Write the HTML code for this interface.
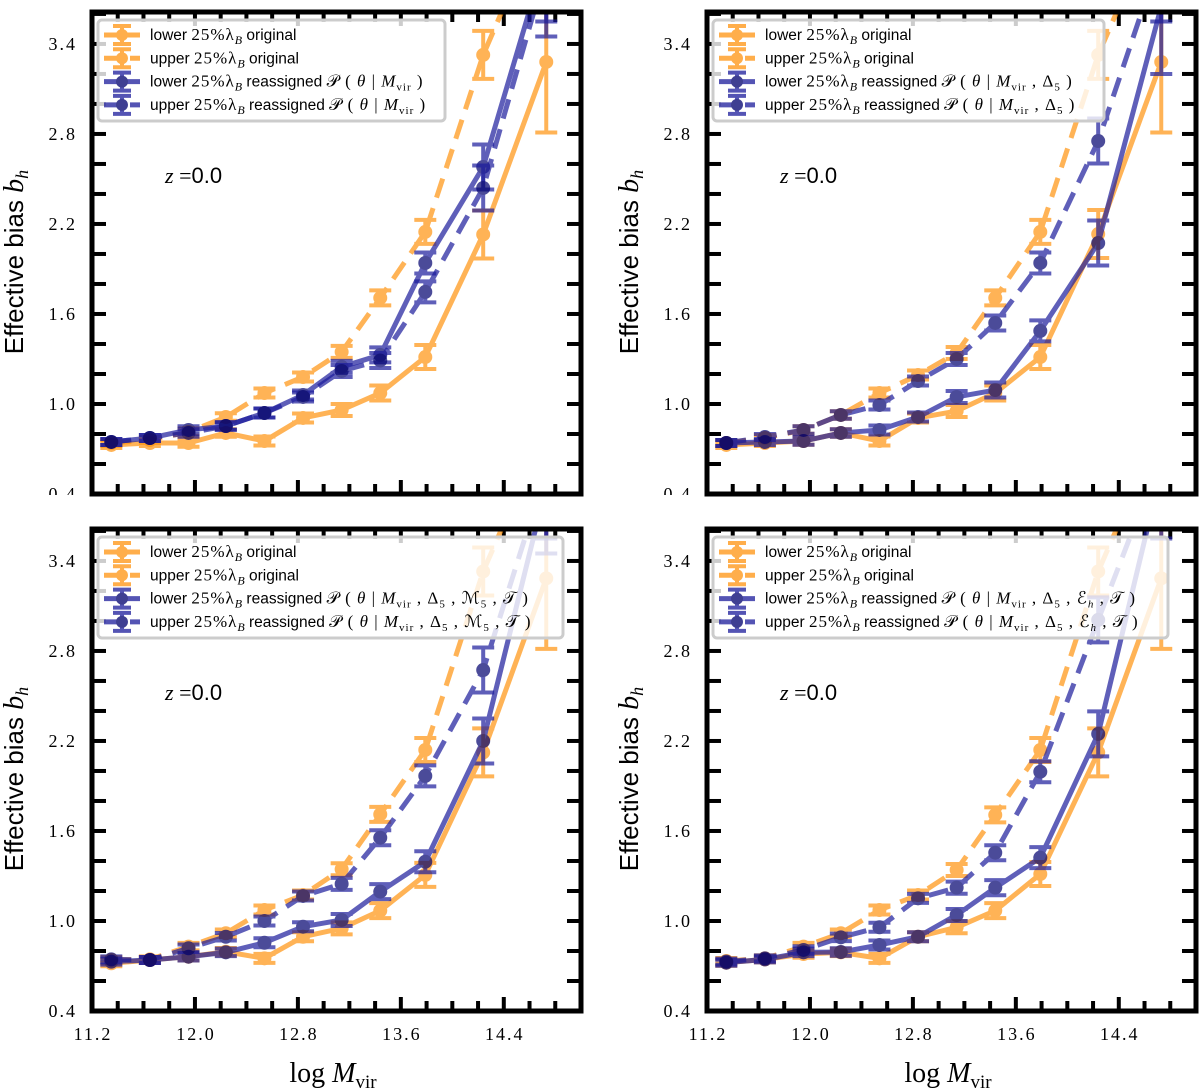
<!DOCTYPE html>
<html><head><meta charset="utf-8">
<style>
html,body{margin:0;padding:0;background:#fff;}
svg{display:block;}
</style></head>
<body>
<svg id="fig" width="1200" height="1088" viewBox="0 0 1200 1088" xmlns="http://www.w3.org/2000/svg"></svg>
<script>
// ---- data (x = log Mvir bin centres, y = effective bias) ----
const massBins = [11.35, 11.65, 11.95, 12.24, 12.54, 12.84, 13.14, 13.44, 13.79, 14.24, 14.73];
const yTicks = [0.4, 1.0, 1.6, 2.2, 2.8, 3.4];
const xTicks = [11.2, 12.0, 12.8, 13.6, 14.4];

// panel A: P(theta|Mvir)
const aLowOrig = [0.727,0.740,0.740,0.807,0.753,0.907,0.960,1.073,1.313,2.130,3.280];
const aUpOrig  = [0.740,0.760,0.813,0.913,1.073,1.180,1.347,1.707,2.147,3.327,4.300];
const aLowRe   = [0.747,0.773,0.827,0.853,0.940,1.060,1.247,1.327,1.940,2.580,4.000];
const aUpRe    = [0.747,0.773,0.807,0.853,0.940,1.047,1.220,1.290,1.747,2.440,3.900];
// panel B: P(theta|Mvir,Delta5)
const bLowOrig = [0.727,0.740,0.753,0.807,0.753,0.907,0.953,1.073,1.313,2.133,3.280];
const bUpOrig  = [0.740,0.773,0.827,0.927,1.073,1.193,1.340,1.707,2.147,3.327,4.300];
const bLowRe   = [0.740,0.747,0.753,0.807,0.827,0.913,1.047,1.093,1.487,2.073,3.650];
const bUpRe    = [0.740,0.780,0.827,0.927,0.993,1.153,1.300,1.540,1.940,2.753,4.000];
// panel C: P(theta|Mvir,Delta5,M5,T)
const cLowOrig = [0.718,0.740,0.762,0.795,0.751,0.895,0.951,1.069,1.307,2.124,3.284];
const cUpOrig  = [0.740,0.744,0.829,0.918,1.073,1.173,1.345,1.711,2.140,3.330,4.300];
const cLowRe   = [0.729,0.740,0.762,0.791,0.855,0.962,1.007,1.196,1.395,2.200,3.900];
const cUpRe    = [0.744,0.740,0.818,0.895,1.000,1.167,1.247,1.555,1.967,2.673,4.000];
// panel D: P(theta|Mvir,Delta5,Eh,T)
const dLowOrig = [0.722,0.744,0.780,0.791,0.751,0.895,0.958,1.069,1.313,2.124,3.284];
const dUpOrig  = [0.733,0.751,0.829,0.918,1.073,1.173,1.340,1.707,2.140,3.330,4.300];
const dLowRe   = [0.722,0.744,0.791,0.793,0.840,0.895,1.040,1.222,1.422,2.247,4.000];
const dUpRe    = [0.729,0.751,0.807,0.891,0.958,1.151,1.222,1.455,1.995,3.007,4.100];

const errOrig = [0.02,0.02,0.025,0.025,0.03,0.03,0.04,0.05,0.08,0.16,0.47];
const errRe   = [0.02,0.02,0.025,0.025,0.03,0.03,0.04,0.05,0.07,0.15,0.45];

const panelSeries = [
  [aLowOrig,aUpOrig,aLowRe,aUpRe],
  [bLowOrig,bUpOrig,bLowRe,bUpRe],
  [cLowOrig,cUpOrig,cLowRe,cUpRe],
  [dLowOrig,dUpOrig,dLowRe,dUpRe]
];
const condLabels = ["<tspan font-style='italic'>M</tspan><tspan font-size='11' dy='4'>vir</tspan><tspan dy='-4'> )</tspan>",
  "<tspan font-style='italic'>M</tspan><tspan font-size='11' dy='4'>vir</tspan><tspan dy='-4'> , Δ</tspan><tspan font-size='11' dy='4'>5</tspan><tspan dy='-4'> )</tspan>",
  "<tspan font-style='italic'>M</tspan><tspan font-size='11' dy='4'>vir</tspan><tspan dy='-4'> , Δ</tspan><tspan font-size='11' dy='4'>5</tspan><tspan dy='-4'> , ℳ</tspan><tspan font-size='11' dy='4'>5</tspan><tspan dy='-4'> , 𝒯 )</tspan>",
  "<tspan font-style='italic'>M</tspan><tspan font-size='11' dy='4'>vir</tspan><tspan dy='-4'> , Δ</tspan><tspan font-size='11' dy='4'>5</tspan><tspan dy='-4'> , ℰ</tspan><tspan font-size='11' font-style='italic' dy='4'>h</tspan><tspan dy='-4'> , 𝒯 )</tspan>"];
const legendWidths = [347, 391, 465, 455];

// ---- layout ----
const NS = "http://www.w3.org/2000/svg";
const svg = document.getElementById('fig');
const panels = [{L:92,T:12},{L:707,T:12},{L:92,T:529},{L:707,T:529}];
const W = 489, H = 482, XMIN = 11.2, XMAX = 15.0, YMIN = 0.4, YMAX = 3.613;
const ORANGE = '#ff9410', BLUE = '#1c1c9c', NAVY = '#00006e';

function mk(tag, attrs, parent){ const e=document.createElementNS(NS,tag); for(const k in attrs) e.setAttribute(k,attrs[k]); (parent||svg).appendChild(e); return e; }

const cpl = mk('clipPath', {id:'ylclip'});
mk('rect', {x:0, y:0, width:1200, height:495}, cpl);

panels.forEach((p, pi) => {
  const sx = v => p.L + (v - XMIN) / (XMAX - XMIN) * W;
  const sy = v => p.T + H - (v - YMIN) / (YMAX - YMIN) * H;
  const g = mk('g', {});
  
  
  const cid = 'clip' + pi;
  const cp = mk('clipPath', {id: cid}, g);
  mk('rect', {x:p.L, y:p.T, width:W, height:H}, cp);

  // ticks
  const tg = mk('g', {stroke:'#000','stroke-width':4}, g);
  
  
  for (let v = 0.4; v < YMAX; v += 0.2) {
    const y = sy(v);
    mk('line', {x1:p.L, x2:p.L+14, y1:y, y2:y}, tg);
    mk('line', {x1:p.L+W-14, x2:p.L+W, y1:y, y2:y}, tg);
  }
  for (let i = 0; i <= 19; i++) {
    const v = XMIN + i*0.2, x = sx(v);
    const len = (i % 4 === 0) ? 14 : 10;
    mk('line', {x1:x, x2:x, y1:p.T+H, y2:p.T+H-len}, tg);
    mk('line', {x1:x, x2:x, y1:p.T, y2:p.T+len}, tg);
  }

  // y tick labels
  const yl = mk('g', {'font-family':'"Liberation Serif", serif','font-size':18,'letter-spacing':2,'text-anchor':'end'}, g);
  if (pi < 2) yl.setAttribute('clip-path', 'url(#ylclip)');
  yTicks.forEach(v => {
    const t = mk('text', {x:p.L-15, y:sy(v)+6}, yl);
    
    
    t.textContent = v.toFixed(1);
  });
  if (pi >= 2) {
    xTicks.forEach(v => {
      const t = mk('text', {x:sx(v)+1, y:p.T+H+29,'font-family':'"Liberation Serif", serif','font-size':18,'letter-spacing':2,'text-anchor':'middle'}, g);
      
      
      t.textContent = v.toFixed(1);
    });
    const xt = mk('text', {x:p.L+241, y:1082,'font-family':'"Liberation Serif", serif','font-size':28,'text-anchor':'middle'}, g);
    
    
    xt.innerHTML = "log <tspan font-style='italic'>M</tspan><tspan font-size='19' dy='6'>vir</tspan>";
  }
  const yt = mk('text', {transform:`translate(${p.L-69},${p.T+250}) rotate(-90)`,'font-family':'"Liberation Sans", sans-serif','font-size':26,'text-anchor':'middle'}, g);
  
  
  yt.innerHTML = "Effective bias <tspan font-family='Liberation Serif, serif' font-style='italic' font-size='28'>b</tspan><tspan font-family='Liberation Serif, serif' font-style='italic' font-size='18' dy='5'>h</tspan>";

  // series
  const sg = mk('g', {'clip-path':`url(#${cid})`}, g);
  const defs = [
    {data:panelSeries[pi][0], err:errOrig, col:ORANGE, dash:null, mk:ORANGE, op:0.7, name:'lower-original'},
    {data:panelSeries[pi][1], err:errOrig, col:ORANGE, dash:'20 11', mk:ORANGE, op:0.7, name:'upper-original'},
    {data:panelSeries[pi][2], err:errRe, col:BLUE, dash:null, mk:NAVY, op:0.7, name:'lower-reassigned'},
    {data:panelSeries[pi][3], err:errRe, col:BLUE, dash:'20 11', mk:NAVY, op:0.7, name:'upper-reassigned'}
  ];
  defs.forEach(d => {
    const s = mk('g', {opacity:d.op}, sg);
    
    
    const pts = d.data.map((v,i) => sx(massBins[i]) + ',' + sy(v)).join(' ');
    const pl = mk('polyline', {points:pts, fill:'none', stroke:d.col, 'stroke-width':5, 'stroke-linejoin':'round'}, s);
    if (d.dash) pl.setAttribute('stroke-dasharray', d.dash);
    
    
    d.data.forEach((v,i) => {
      const x = sx(massBins[i]), y1 = sy(v - d.err[i]), y2 = sy(v + d.err[i]);
      const eb = mk('path', {d:`M${x},${y1}V${y2}M${x-11},${y1}H${x+11}M${x-11},${y2}H${x+11}`, stroke:d.col, 'stroke-width':4, fill:'none'}, s);
      
      
      const c = mk('circle', {cx:x, cy:sy(v), r:7, fill:d.mk}, s);
      
      
    });
  });

  // z label
  const zl = mk('text', {x:p.L+73, y:p.T+171,'font-size':22,'font-family':'"Liberation Serif", serif'}, g);
  
  
  zl.innerHTML = "<tspan font-style='italic'>z</tspan> =<tspan font-family='Liberation Sans, sans-serif'>0.0</tspan>";

  // legend
  const lg = mk('g', {}, g);
  
  
  mk('rect', {x:p.L+6, y:p.T+8, width:legendWidths[pi], height:101, rx:4, fill:'rgba(255,255,255,0.8)', stroke:'#cccccc', 'stroke-width':3}, lg);
  const S = "<tspan font-family='Liberation Serif, serif' font-size='17' letter-spacing='1'>";
  const labels = [
    "lower " + S + "25%λ</tspan><tspan font-family='Liberation Serif, serif' font-style='italic' font-size='12' dy='4'>B</tspan><tspan dy='-4'>  original</tspan>",
    "upper " + S + "25%λ</tspan><tspan font-family='Liberation Serif, serif' font-style='italic' font-size='12' dy='4'>B</tspan><tspan dy='-4'>  original</tspan>",
    "lower " + S + "25%λ</tspan><tspan font-family='Liberation Serif, serif' font-style='italic' font-size='12' dy='4'>B</tspan><tspan dy='-4'>  reassigned </tspan>" + S + "𝒫 ( <tspan font-style='italic'>θ</tspan> | " + condLabels[pi] + "</tspan>",
    "upper " + S + "25%λ</tspan><tspan font-family='Liberation Serif, serif' font-style='italic' font-size='12' dy='4'>B</tspan><tspan dy='-4'>  reassigned </tspan>" + S + "𝒫 ( <tspan font-style='italic'>θ</tspan> | " + condLabels[pi] + "</tspan>"
  ];
  defs.forEach((d, i) => {
    const y = p.T + 23 + i*23.3;
    const hg = mk('g', {opacity:0.75}, lg);
    
    
    const ln = mk('line', {x1:p.L+12, x2:p.L+48, y1:y, y2:y, stroke:d.col, 'stroke-width':5}, hg);
    if (d.dash) ln.setAttribute('stroke-dasharray', '18 8');
    mk('path', {d:`M${p.L+30},${y-9}V${y+9}M${p.L+21},${y-9}H${p.L+39}M${p.L+21},${y+9}H${p.L+39}`, stroke:d.col,'stroke-width':4,fill:'none'}, hg);
    mk('circle', {cx:p.L+30, cy:y, r:6, fill:d.mk}, hg);
    const t = mk('text', {x:p.L+58, y:y+5, 'font-family':'"Liberation Sans", sans-serif', 'font-size':15.5, 'xml:space':'preserve'}, lg);
    
    
    t.innerHTML = labels[i];
  });

  // frame
  const fr = mk('rect', {x:p.L, y:p.T, width:W, height:H, fill:'none', stroke:'#000', 'stroke-width':5}, g);
  
  
});
</script>
</body></html>
